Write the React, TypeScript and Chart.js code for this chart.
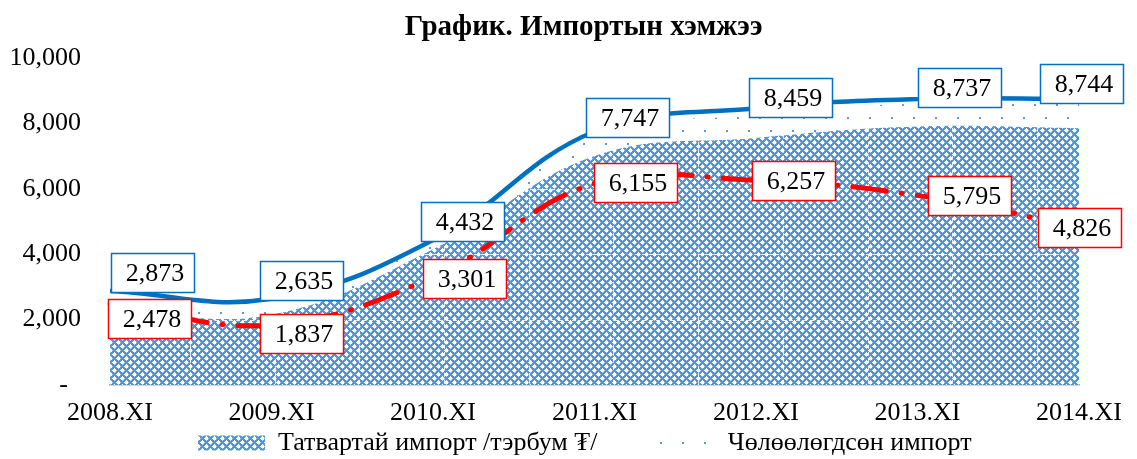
import React, { useEffect, useRef } from "react";
import { Chart, registerables } from "chart.js";

Chart.register(...registerables);

const categories = ["2008.XI", "2009.XI", "2010.XI", "2011.XI", "2012.XI", "2013.XI", "2014.XI"];
const totalImport = [2873, 2635, 4432, 7747, 8459, 8737, 8744];
const taxedImport = [2478, 1837, 3301, 6155, 6257, 5795, 4826];
const areaTaxed = [2300, 2150, 4150, 7000, 7550, 7900, 7850];
const areaExempt = [350, 200, 250, 600, 700, 700, 750];
const yTicks = [0, 2000, 4000, 6000, 8000, 10000];

const TITLE = "График. Импортын хэмжээ";
const LABEL_TAXED = "Татвартай импорт /тэрбум ₮/";
const LABEL_EXEMPT = "Чөлөөлөгдсөн импорт";

const FONT = "'Liberation Serif', 'Times New Roman', serif";

function makeHatch(): CanvasPattern | string {
  const c = document.createElement("canvas");
  c.width = 8;
  c.height = 8;
  const g = c.getContext("2d");
  if (!g) return "#5B9BD5";
  g.fillStyle = "#5096DA";
  g.fillRect(0, 0, 8, 8);
  g.fillStyle = "#FFFFFF";
  const diamond = (cx: number, cy: number) => {
    for (let dy = -2; dy <= 2; dy++) {
      for (let dx = -2; dx <= 2; dx++) {
        if (Math.abs(dx) + Math.abs(dy) <= 2) {
          const x = (((cx + dx) % 8) + 8) % 8;
          const y = (((cy + dy) % 8) + 8) % 8;
          g.fillRect(x, y, 1, 1);
        }
      }
    }
  };
  diamond(2, 2);
  diamond(6, 6);
  g.fillStyle = "#B4D2F0";
  g.fillRect(4, 2, 1, 1);
  g.fillRect(0, 6, 1, 1);
  g.fillRect(2, 4, 1, 1);
  g.fillRect(6, 0, 1, 1);
  return g.createPattern(c, "repeat") || "#5B9BD5";
}

function makeDots(): CanvasPattern | string {
  const c = document.createElement("canvas");
  c.width = 22;
  c.height = 26;
  const g = c.getContext("2d");
  if (!g) return "rgba(91,155,213,0.2)";
  g.fillStyle = "#5B9BD5";
  g.fillRect(0, 0, 2, 2);
  g.fillRect(11, 13, 2, 2);
  return g.createPattern(c, "repeat") || "rgba(91,155,213,0.2)";
}

const areaGridPlugin = {
  id: "areaGrid",
  afterDatasetDraw(chart: any, args: any) {
    if (args.index !== 1) return;
    const { ctx, chartArea } = chart;
    const x = chart.scales.x;
    const y = chart.scales.y;
    ctx.save();
    ctx.beginPath();
    ctx.rect(chartArea.left, chartArea.top, chartArea.right - chartArea.left, chartArea.bottom - chartArea.top);
    ctx.clip();
    ctx.strokeStyle = "rgba(255,255,255,0.85)";
    ctx.lineWidth = 1;
    ctx.setLineDash([4, 3]);
    for (const v of yTicks) {
      if (v === 0) continue;
      const py = Math.round(y.getPixelForValue(v)) + 0.5;
      ctx.beginPath();
      ctx.moveTo(chartArea.left, py);
      ctx.lineTo(chartArea.right, py);
      ctx.stroke();
    }
    for (let k = 1; k <= 11; k++) {
      const v = -0.03 + k * 0.5245;
      const px = Math.round(x.getPixelForValue(v)) + 0.5;
      ctx.beginPath();
      ctx.moveTo(px, chartArea.top);
      ctx.lineTo(px, chartArea.bottom);
      ctx.stroke();
    }
    ctx.restore();
  },
};

const boxLabelPlugin = {
  id: "boxLabels",
  afterDatasetsDraw(chart: any, _args: any, opts: any) {
    const { ctx } = chart;
    const items = (opts && opts.items) || [];
    ctx.save();
    for (const it of items) {
      const meta = chart.getDatasetMeta(it.datasetIndex);
      const data = chart.data.datasets[it.datasetIndex].data as number[];
      meta.data.forEach((pt: any, i: number) => {
        const w = 83;
        const h = 39;
        let cx = pt.x + it.dx[i];
        const cy = pt.y + it.dy[i];
        if (cx + w / 2 > chart.width - 3) cx = chart.width - 3 - w / 2;
        const left = Math.round(cx - w / 2) + 0.5;
        const top = Math.round(cy - h / 2) + 0.5;
        ctx.fillStyle = "#FFFFFF";
        ctx.fillRect(left, top, w, h);
        ctx.strokeStyle = it.color;
        ctx.lineWidth = 1.5;
        ctx.setLineDash([]);
        ctx.strokeRect(left, top, w, h);
        ctx.fillStyle = "#000000";
        ctx.font = `26px ${FONT}`;
        ctx.textAlign = "center";
        ctx.textBaseline = "middle";
        ctx.fillText(data[i].toLocaleString("en-US"), left + w / 2 + 2, top + h / 2 + 1);
      });
    }
    ctx.restore();
  },
};

export default function App() {
  const ref = useRef<HTMLCanvasElement | null>(null);

  useEffect(() => {
    if (!ref.current) return;
    const hatch = makeHatch();
    const dots = makeDots();
    const areaTotal = areaTaxed.map((v, i) => v + areaExempt[i]);

    const chart = new Chart(ref.current, {
      type: "line",
      data: {
        labels: categories,
        datasets: [
          {
            label: LABEL_TAXED,
            data: areaTaxed,
            backgroundColor: hatch as any,
            borderWidth: 0,
            borderColor: "transparent",
            fill: "origin",
            pointRadius: 0,
            tension: 0.4,
            order: 3,
          },
          {
            label: LABEL_EXEMPT,
            data: areaTotal,
            backgroundColor: dots as any,
            borderWidth: 0,
            borderColor: "transparent",
            fill: "-1",
            pointRadius: 0,
            tension: 0.4,
            order: 2,
          },
          {
            label: "taxed line",
            data: taxedImport,
            borderColor: "#FF0000",
            borderWidth: 5,
            borderDash: [34, 15, 1, 15],
            borderCapStyle: "round",
            fill: false,
            pointRadius: 0,
            tension: 0.4,
            order: 1,
          },
          {
            label: "total line",
            data: totalImport,
            borderColor: "#0070C0",
            borderWidth: 4.5,
            fill: false,
            pointRadius: 0,
            tension: 0.4,
            order: 0,
          },
        ],
      },
      options: {
        animation: false,
        responsive: false,
        devicePixelRatio: 1,
        layout: { padding: { left: 0, right: 47, top: 0, bottom: -7 } },
        scales: {
          x: {
            offset: false,
            afterFit: (axis: any) => {
              axis.height = 40;
            },
            grid: { display: true, color: "transparent", drawTicks: false },
            border: { display: true, color: "#A6A6A6", width: 1.5 },
            ticks: {
              color: "#000000",
              font: { family: FONT, size: 26, lineHeight: 1 },
              padding: 15,
              maxRotation: 0,
              autoSkip: false,
            },
          },
          y: {
            min: 0,
            max: 10000,
            afterBuildTicks: (axis: any) => {
              axis.ticks = yTicks.map((v) => ({ value: v }));
            },
            afterFit: (axis: any) => {
              axis.width = 110;
            },
            grid: { display: false, drawTicks: false },
            border: { display: false },
            ticks: {
              color: "#000000",
              font: { family: FONT, size: 26 },
              padding: 29,
              callback: (v: any) => (Number(v) === 0 ? "-\u00A0\u00A0" : Number(v).toLocaleString("en-US")),
            },
          },
        },
        plugins: {
          title: {
            display: true,
            fullSize: false,
            text: TITLE + "\u00A0\u00A0\u00A0",
            color: "#000000",
            font: { family: FONT, size: 29, weight: "bold" },
            padding: { top: 10, bottom: 13 },
          },
          legend: {
            display: true,
            position: "bottom",
            fullSize: false,
            labels: {
              color: "#000000",
              font: { family: FONT, size: 26 },
              boxWidth: 67,
              boxHeight: 15,
              padding: 5,
              filter: (item: any) => item.datasetIndex < 2,
              sort: (a: any, b: any) => a.datasetIndex - b.datasetIndex,
              generateLabels: (ch: any) => {
                const base = (Chart.defaults.plugins.legend.labels as any).generateLabels(ch);
                return base.map((l: any) => ({
                  ...l,
                  text: l.datasetIndex === 0 ? l.text + "\u00A0".repeat(7) : l.text + "\u00A0".repeat(3),
                  lineWidth: 0,
                  strokeStyle: "transparent",
                }));
              },
            },
          },
          tooltip: { enabled: false },
          boxLabels: {
            items: [
              { datasetIndex: 2, color: "#FF0000", dx: [39, 30, 31, 41, 37, 52, 0], dy: [15, 9, 2, -1, 0, 0, 0] },
              { datasetIndex: 3, color: "#0070C0", dx: [42, 30, 29, 33, 34, 42, 2], dy: [-18, -18, -18, -14, -11, -12, -15] },
            ],
          },
        } as any,
      },
      plugins: [areaGridPlugin, boxLabelPlugin],
    });

    return () => chart.destroy();
  }, []);

  return (
    <div style={{ position: "absolute", left: 0, top: 0, width: 1137, height: 459, background: "#FFFFFF" }}>
      <canvas ref={ref} width={1137} height={459} />
    </div>
  );
}
